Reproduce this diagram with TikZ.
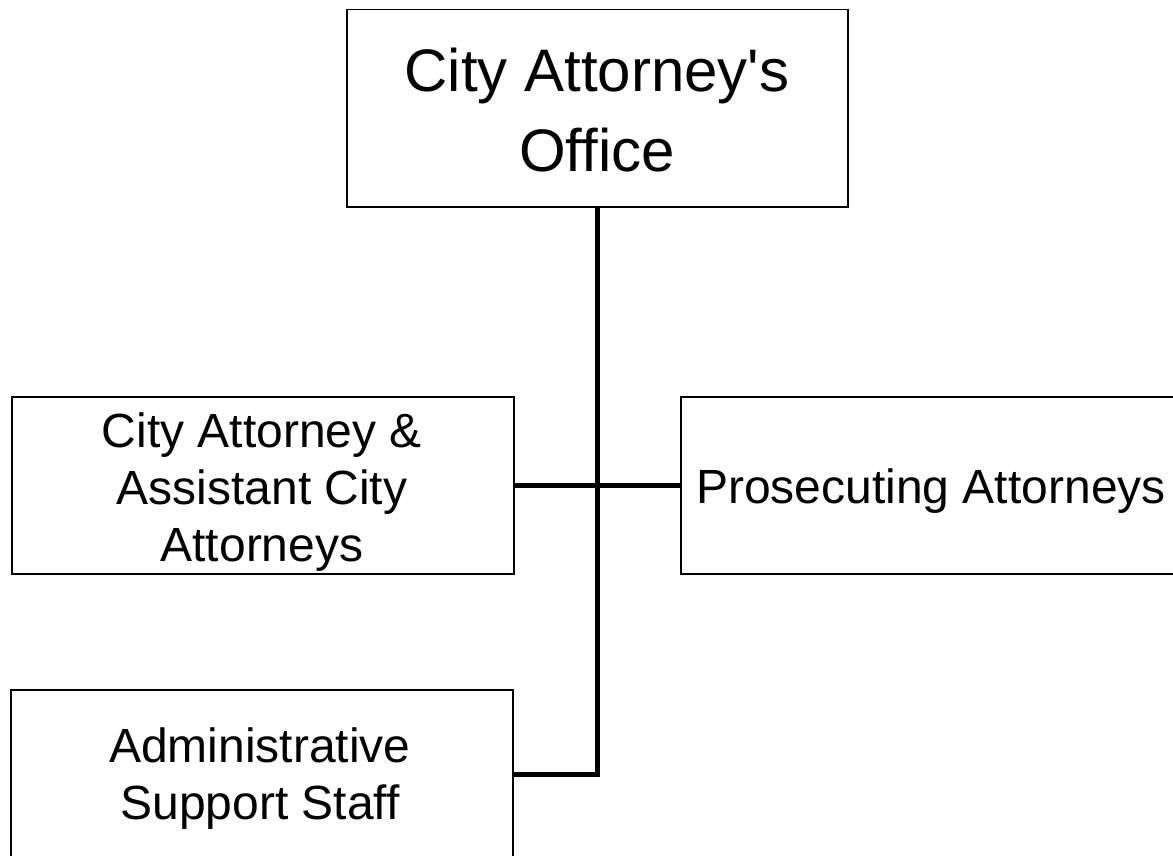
\documentclass[tikz,border=0pt]{standalone}
\usepackage{fontspec}
\setmainfont{Liberation Sans}
\begin{document}
\begin{tikzpicture}[x=1pt,y=-1pt,
  box/.style={draw, line width=1.5pt, inner sep=0pt, anchor=north west, fill=white},
  conn/.style={line width=5pt, line join=miter},
  bigtxt/.style={align=center, inner sep=0pt, font=\fontsize{60}{80}\selectfont},
  txt/.style={align=center, inner sep=0pt, font=\fontsize{48}{57}\selectfont}]
\useasboundingbox (0,0) rectangle (1173,856);
\clip (0,0) rectangle (1173,856);
\fill[white] (0,0) rectangle (1173,856);
\node[box, minimum width=501pt, minimum height=197pt] (top) at (346,9) {};
\node[box, minimum width=502pt, minimum height=177pt] (att) at (11,396) {};
\node[box, minimum width=502pt, minimum height=177pt] (pros) at (680,396) {};
\node[box, minimum width=502pt, minimum height=170pt] (adm) at (10,689) {};
\coordinate (j) at (top.south |- adm.east);
\draw[conn] (top.south) -- (j) -- (adm.east);
\draw[conn] (att.east) -- (pros.west);
\node[bigtxt] (ttop) at (597,110) {City Attorney\textquotesingle s\\Office};
\node[txt] (tatt) at (262,492) {City Attorney \&\\Assistant City\\Attorneys};
\node[txt] (tpros) at (931,491) {Prosecuting Attorneys};
\node[txt] (tadm) at (260,778.5) {Administrative\\Support Staff};
\end{tikzpicture}
\end{document}
